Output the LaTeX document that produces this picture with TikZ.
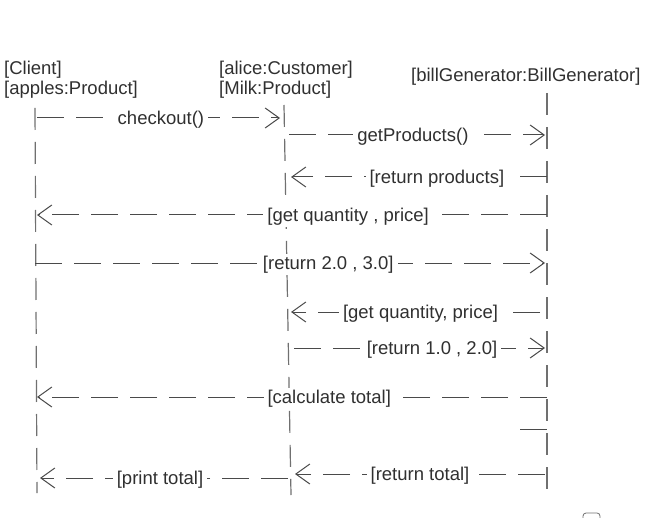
\documentclass[tikz,border=0pt]{standalone}
\usepackage{fontspec}
\setmainfont{Liberation Sans}
\usetikzlibrary{arrows.meta}
\definecolor{txt}{HTML}{303030}
\definecolor{msgc}{HTML}{4A4A4A}
\definecolor{lifec}{HTML}{707070}
\begin{document}
\begin{tikzpicture}[x=1pt,y=-1pt,
  lbl/.style={font=\fontsize{18.5}{20}\selectfont, text=txt, inner sep=0pt},
  hdr/.style={lbl, anchor=west, yshift=-2pt},
  msglbl/.style={lbl, fill=white, inner xsep=4pt, inner ysep=2pt, yshift=-1.5pt},
  life/.style={draw=lifec, line width=1.2pt, dash pattern=on 22pt off 12pt},
  msg/.style={draw=msgc, line width=1pt, dash pattern=on 27pt off 12pt},
  tip/.style={-{Straight Barb[length=14pt,width=20pt,line width=1pt]}},
]
\useasboundingbox (0,0) rectangle (660,518);

% headers
\node[hdr] (h1) at (4,68) {[Client]};
\node[hdr] (h2) at (4,88) {[apples:Product]};
\node[hdr] (h3) at (219,68) {[alice:Customer]};
\node[hdr] (h4) at (219,88) {[Milk:Product]};
\node[hdr] (h5) at (411,75) {[billGenerator:BillGenerator]};

% lifelines
\coordinate (cT) at (35,108); \coordinate (cB) at (37,493);
\coordinate (aT) at (284,105); \coordinate (aB) at (291,495);
\coordinate (bT) at (547,93);  \coordinate (bB) at (547,500);
\draw[life] (cT) -- (cB);
\draw[life] (aT) -- (aB);
\draw[life] (bT) -- (bB);

% message end points
\coordinate (m1s) at (37,118);  \coordinate (m1e) at (280,118);
\coordinate (m2s) at (289,135); \coordinate (m2e) at (545,135);
\coordinate (m3s) at (547,177); \coordinate (m3e) at (291,177);
\coordinate (m4s) at (547,215); \coordinate (m4e) at (37,215);
\coordinate (m5s) at (35,263);  \coordinate (m5e) at (545,263);
\coordinate (m6s) at (540,312); \coordinate (m6e) at (291,312);
\coordinate (m7s) at (294,348); \coordinate (m7e) at (545,348);
\coordinate (m8s) at (547,397); \coordinate (m8e) at (37,397);
\coordinate (m9s) at (520,429); \coordinate (m9e) at (547,429);
\coordinate (m10s) at (545,474); \coordinate (m10e) at (295,474);
\coordinate (m11s) at (288,478); \coordinate (m11e) at (40,478);

% messages
\draw[msg,tip] (m1s) -- node[msglbl,pos=0.51] (l1) {checkout()} (m1e);
\draw[msg,tip] (m2s) -- node[msglbl,pos=0.484] (l2) {getProducts()} (m2e);
\draw[msg,tip] (m3s) -- node[msglbl,pos=0.43] (l3) {[return products]} (m3e);
\draw[msg,tip] (m4s) -- node[msglbl,pos=0.39] (l4) {[get quantity , price]} (m4e);
\draw[msg,tip] (m5s) -- node[msglbl,pos=0.575] (l5) {[return 2.0 , 3.0]} (m5e);
\draw[msg,tip] (m6s) -- node[msglbl,pos=0.48] (l6) {[get quantity, price]} (m6e);
\draw[msg,tip] (m7s) -- node[msglbl,pos=0.55] (l7) {[return 1.0 , 2.0]} (m7e);
\draw[msg,tip] (m8s) -- node[msglbl,pos=0.427] (l8) {[calculate total]} (m8e);
\draw[draw=msgc, line width=1pt] (m9s) -- (m9e);
\draw[msg,tip] (m10s) -- node[msglbl,pos=0.5] (l10) {[return total]} (m10e);
\draw[msg,tip] (m11s) -- node[msglbl,pos=0.516] (l11) {[print total]} (m11e);

% cut-off glyph at bottom edge
\draw[draw=lifec, line width=0.8pt, rounded corners=3pt] (583,526) rectangle (600,513);
\end{tikzpicture}
\end{document}
